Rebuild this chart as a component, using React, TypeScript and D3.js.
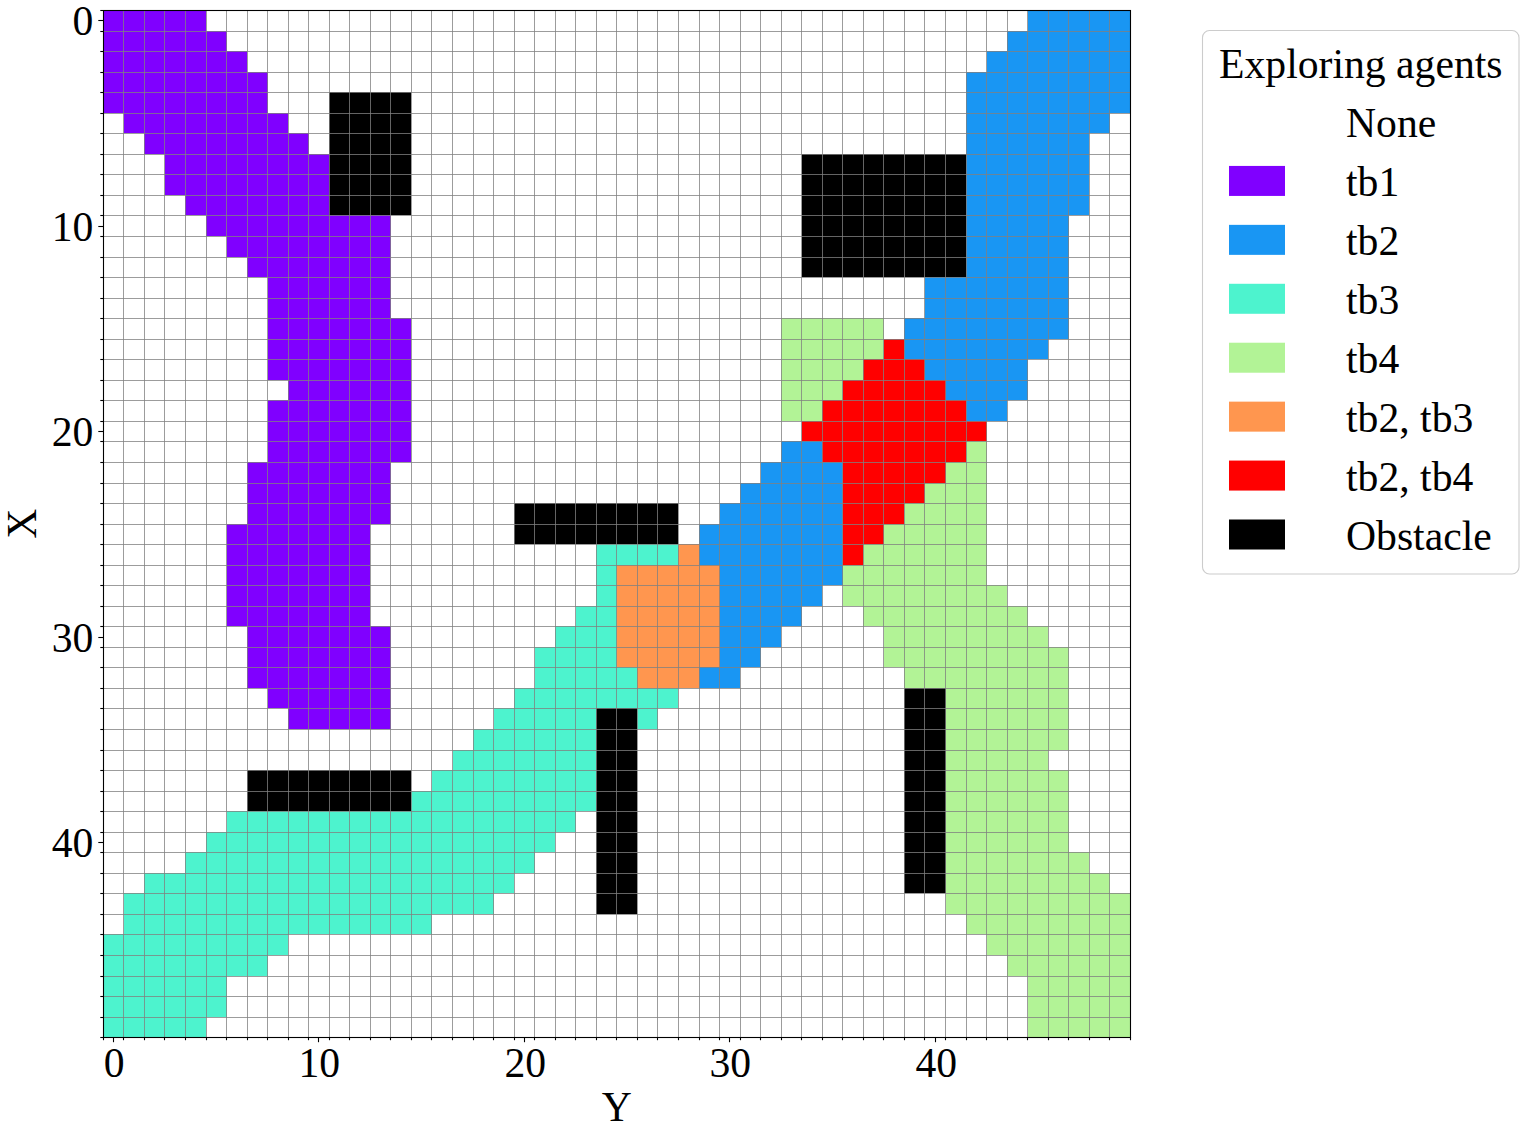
import { useEffect, useRef } from 'react';
import * as d3 from 'd3';

// each run is [row (X), first col (Y), last col (Y)]
type Run = [number, number, number];

const tb1Runs: Run[] = [
  [0, 0, 4], [1, 0, 5], [2, 0, 6], [3, 0, 7], [4, 0, 7], [5, 1, 8], [6, 2, 9], [7, 3, 10], [8, 3, 10], [9, 4, 10],
  [10, 5, 13], [11, 6, 13], [12, 7, 13], [13, 8, 13], [14, 8, 13], [15, 8, 14], [16, 8, 14], [17, 8, 14], [18, 9, 14],
  [19, 8, 14], [20, 8, 14], [21, 8, 14], [22, 7, 13], [23, 7, 13], [24, 7, 13], [25, 6, 12], [26, 6, 12], [27, 6, 12],
  [28, 6, 12], [29, 6, 12], [30, 7, 13], [31, 7, 13], [32, 7, 13], [33, 8, 13], [34, 9, 13],
];

const tb2Runs: Run[] = [
  [0, 45, 49], [1, 44, 49], [2, 43, 49], [3, 42, 49], [4, 42, 49], [5, 42, 48], [6, 42, 47], [7, 42, 47], [8, 42, 47],
  [9, 42, 47], [10, 42, 46], [11, 42, 46], [12, 42, 46], [13, 40, 46], [14, 40, 46], [15, 39, 46], [16, 39, 45],
  [17, 40, 44], [18, 41, 44], [19, 42, 43], [21, 33, 34], [22, 32, 35], [23, 31, 35], [24, 30, 35], [25, 29, 35],
  [26, 29, 35], [27, 30, 35], [28, 30, 34], [29, 30, 33], [30, 30, 32], [31, 30, 31], [32, 29, 30],
];

const tb3Runs: Run[] = [
  [26, 24, 27], [27, 24, 24], [28, 24, 24], [29, 23, 24], [30, 22, 24], [31, 21, 24], [32, 21, 25], [33, 20, 27],
  [34, 19, 23], [34, 26, 26], [35, 18, 23], [36, 17, 23], [37, 16, 23], [38, 15, 23], [39, 6, 22], [40, 5, 21],
  [41, 4, 20], [42, 2, 19], [43, 1, 18], [44, 1, 15], [45, 0, 8], [46, 0, 7], [47, 0, 5], [48, 0, 5], [49, 0, 4],
];

const tb4Runs: Run[] = [
  [15, 33, 37], [16, 33, 37], [17, 33, 36], [18, 33, 35], [19, 33, 34], [21, 42, 42], [22, 41, 42], [23, 40, 42],
  [24, 39, 42], [25, 38, 42], [26, 37, 42], [27, 36, 42], [28, 36, 43], [29, 37, 44], [30, 38, 45], [31, 38, 46],
  [32, 39, 46], [33, 41, 46], [34, 41, 46], [35, 41, 46], [36, 41, 45], [37, 41, 46], [38, 41, 46], [39, 41, 46],
  [40, 41, 46], [41, 41, 47], [42, 41, 48], [43, 41, 49], [44, 42, 49], [45, 43, 49], [46, 44, 49], [47, 45, 49],
  [48, 45, 49], [49, 45, 49],
];

const tb23Runs: Run[] = [
  [26, 28, 28], [27, 25, 29], [28, 25, 29], [29, 25, 29], [30, 25, 29], [31, 25, 29], [32, 26, 28],
];

const tb24Runs: Run[] = [
  [16, 38, 38], [17, 37, 39], [18, 36, 40], [19, 35, 41], [20, 34, 42], [21, 35, 41], [22, 36, 40], [23, 36, 39],
  [24, 36, 38], [25, 36, 37], [26, 36, 36],
];

const obstacleRuns: Run[] = [
  [4, 11, 14], [5, 11, 14], [6, 11, 14], [7, 11, 14], [8, 11, 14], [9, 11, 14],
  [7, 34, 41], [8, 34, 41], [9, 34, 41], [10, 34, 41], [11, 34, 41], [12, 34, 41],
  [24, 20, 27], [25, 20, 27],
  [33, 39, 40], [34, 39, 40], [35, 39, 40], [36, 39, 40], [37, 39, 40], [38, 39, 40], [39, 39, 40], [40, 39, 40],
  [41, 39, 40], [42, 39, 40],
  [34, 24, 25], [35, 24, 25], [36, 24, 25], [37, 24, 25], [38, 24, 25], [39, 24, 25], [40, 24, 25], [41, 24, 25],
  [42, 24, 25], [43, 24, 25],
  [37, 7, 14], [38, 7, 14],
];

const legendLabels = ['None', 'tb1', 'tb2', 'tb3', 'tb4', 'tb2, tb3', 'tb2, tb4', 'Obstacle'];
const legendColors = ['#ffffff', '#8000ff', '#1996f3', '#4df3ce', '#b2f396', '#ff964f', '#ff0000', '#000000'];
const layers = [tb1Runs, tb2Runs, tb3Runs, tb4Runs, tb23Runs, tb24Runs, obstacleRuns];
const majorTicks = [0, 10, 20, 30, 40];

const FONT = '"Liberation Serif", "Times New Roman", serif';
const FONT_SIZE = '41.67px';
const plot = { left: 103.3, right: 1130.4, top: 10, bottom: 1037.2 };

const App = () => {
  const svgRef = useRef<SVGSVGElement>(null);

  useEffect(() => {
    if (!svgRef.current) return;
    const svg = d3.select(svgRef.current);
    svg.selectAll('*').remove();

    const x = d3.scaleLinear().domain([-0.5, 49.5]).range([plot.left, plot.right]);
    const y = d3.scaleLinear().domain([-0.5, 49.5]).range([plot.top, plot.bottom]);
    const edges = d3.range(-0.5, 50, 1);

    // thin lines land on whole pixels, like the original raster
    const snapX = (d: number) => Math.floor(x(d)) + 0.5;
    const snapY = (d: number) => Math.round(y(d)) + 0.5;

    svg.append('rect').attr('width', 1537).attr('height', 1131).attr('fill', '#fff');

    // Cells
    layers.forEach((runs, i) => {
      svg.append('g')
        .attr('shape-rendering', 'crispEdges')
        .selectAll('rect')
        .data(runs)
        .enter()
        .append('rect')
        .attr('x', d => Math.round(x(d[1] - 0.5)))
        .attr('y', d => Math.round(y(d[0] - 0.5)))
        .attr('width', d => Math.round(x(d[2] + 0.5)) - Math.round(x(d[1] - 0.5)))
        .attr('height', d => Math.round(y(d[0] + 0.5)) - Math.round(y(d[0] - 0.5)))
        .attr('fill', legendColors[i + 1]);
    });

    // Grid on the minor ticks
    const grid = svg.append('g')
      .attr('stroke', '#808080')
      .attr('stroke-opacity', 0.78)
      .attr('stroke-width', 1);
    grid.selectAll('.gx').data(edges).enter().append('line')
      .attr('x1', d => snapX(d)).attr('x2', d => snapX(d))
      .attr('y1', plot.top).attr('y2', plot.bottom);
    grid.selectAll('.gy').data(edges).enter().append('line')
      .attr('y1', d => snapY(d)).attr('y2', d => snapY(d))
      .attr('x1', plot.left).attr('x2', plot.right);

    // Axes
    const styleAxis = (g: any) => {
      g.select('.domain').remove();
      g.selectAll('line').attr('stroke', '#000').attr('stroke-width', 1.1);
      g.selectAll('text').attr('fill', '#000').style('font-family', FONT).style('font-size', FONT_SIZE);
    };
    const bottomTicks = (g: any) => {
      g.selectAll('.tick').attr('transform', (d: number) => `translate(${snapX(d)},0)`);
      styleAxis(g);
    };
    const leftTicks = (g: any) => {
      g.selectAll('.tick').attr('transform', (d: number) => `translate(0,${snapY(d)})`);
      styleAxis(g);
    };

    svg.append('g').attr('transform', `translate(0,${plot.bottom})`)
      .call(d3.axisBottom(x).tickValues(edges).tickSize(3).tickFormat(() => ''))
      .call(bottomTicks);
    svg.append('g').attr('transform', `translate(${plot.left},0)`)
      .call(d3.axisLeft(y).tickValues(edges).tickSize(3).tickFormat(() => ''))
      .call(leftTicks);
    svg.append('g').attr('transform', `translate(0,${plot.bottom})`)
      .call(d3.axisBottom(x).tickValues(majorTicks).tickSize(5).tickPadding(5).tickFormat(d3.format('d')))
      .call(bottomTicks)
      .call((g: any) => g.selectAll('text').attr('dx', 0.7));
    svg.append('g').attr('transform', `translate(${plot.left},0)`)
      .call(d3.axisLeft(y).tickValues(majorTicks).tickSize(5).tickPadding(5).tickFormat(d3.format('d')))
      .call(leftTicks)
      .call((g: any) => g.selectAll('text').attr('y', 0.8));

    // Spines
    svg.append('rect')
      .attr('x', Math.floor(plot.left) + 0.5).attr('y', plot.top + 0.5)
      .attr('width', Math.floor(plot.right) - Math.floor(plot.left))
      .attr('height', Math.round(plot.bottom) - plot.top)
      .attr('fill', 'none').attr('stroke', '#000').attr('stroke-width', 1.1);

    // Axis labels
    svg.append('text')
      .attr('x', (plot.left + plot.right) / 2).attr('y', 1121)
      .attr('text-anchor', 'middle')
      .style('font-family', FONT).style('font-size', FONT_SIZE)
      .text('Y');
    svg.append('text')
      .attr('transform', `translate(36,${(plot.top + plot.bottom) / 2}) rotate(-90)`)
      .attr('text-anchor', 'middle')
      .style('font-family', FONT).style('font-size', FONT_SIZE)
      .text('X');

    // Legend
    const legend = svg.append('g');
    legend.append('rect')
      .attr('x', 1202.5).attr('y', 30.5).attr('width', 316.5).attr('height', 543.5).attr('rx', 7)
      .attr('fill', '#fff').attr('stroke', '#ccc').attr('stroke-width', 1.1);
    legend.append('text')
      .attr('x', 1360.8).attr('y', 78)
      .attr('text-anchor', 'middle')
      .style('font-family', FONT).style('font-size', FONT_SIZE)
      .text('Exploring agents');

    const rowY = d3.scaleLinear().domain([0, 7]).range([137, 549.5]);
    legendLabels.forEach((label, i) => {
      if (label !== 'None') {
        legend.append('rect')
          .attr('x', 1229).attr('y', rowY(i) - 30).attr('width', 56).attr('height', 30)
          .attr('fill', legendColors[i]);
      }
      legend.append('text')
        .attr('x', 1346).attr('y', rowY(i))
        .style('font-family', FONT).style('font-size', FONT_SIZE)
        .text(label);
    });
  }, []);

  return <svg ref={svgRef} width={1537} height={1131} style={{ position: 'absolute', left: 0, top: 0, display: 'block' }} />;
};

export default App;
